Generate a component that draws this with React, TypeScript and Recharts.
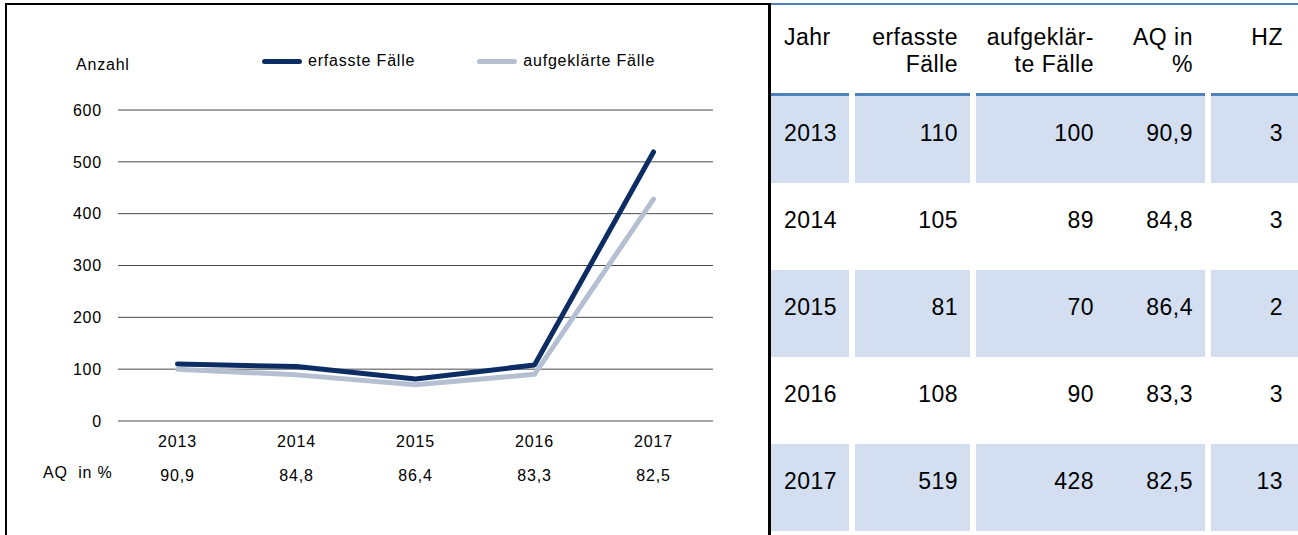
import { LineChart, Line, XAxis, YAxis, CartesianGrid, Legend } from 'recharts'

const years = ['2013', '2014', '2015', '2016', '2017']
const erfasst = [110, 105, 81, 108, 519]
const aufgeklaert = [100, 89, 70, 90, 428]
const aqProzent = ['90,9', '84,8', '86,4', '83,3', '82,5']
const hz = [3, 3, 2, 3, 13]
const yTicks = [0, 100, 200, 300, 400, 500, 600]

const seriesNames = ['erfasste Fälle', 'aufgeklärte Fälle']
const tableHeader = ['Jahr', 'erfasste\nFälle', 'aufgeklär-\nte Fälle', 'AQ in\n%', 'HZ']

const data = years.map((jahr, i) => ({
  jahr,
  erfasst: erfasst[i],
  aufgeklaert: aufgeklaert[i],
  aq: aqProzent[i],
}))

const FONT = '"Liberation Sans", Arial, sans-serif'
const DARK = '#0c2c64'
const LIGHT = '#b5bfd2'
const SHADE = '#d3dff0'
const BLUE = '#4f81bd'

const YearTick = (props: any) => {
  const { x, y, payload, index } = props
  return (
    <g>
      <text x={x} y={y + 26} textAnchor="middle" fill="#000" fontSize={16} letterSpacing={0.8} fontFamily={FONT}>
        {payload.value}
      </text>
      <text x={x} y={y + 60} textAnchor="middle" fill="#000" fontSize={16} letterSpacing={0.8} fontFamily={FONT}>
        {data[index]?.aq}
      </text>
    </g>
  )
}

const renderLegend = (props: any) => {
  const items = [...props.payload].sort(
    (a: any, b: any) => seriesNames.indexOf(a.value) - seriesNames.indexOf(b.value)
  )
  return (
    <div style={{ display: 'flex', alignItems: 'center', fontFamily: FONT, fontSize: 16, letterSpacing: 0.8 }}>
      {items.map((e: any, i: number) => (
        <div key={i} style={{ display: 'flex', alignItems: 'center', marginRight: i === 0 ? 62 : 0 }}>
          <span style={{ display: 'inline-block', width: 40, height: 5, borderRadius: 3, background: e.color, marginRight: 6 }} />
          <span>{e.value}</span>
        </div>
      ))}
    </div>
  )
}

// table geometry
const blocks = [[771, 849], [855, 970], [976, 1205], [1211, 1298]]
const textCols = [
  { left: 784 },
  { right: 958 },
  { right: 1094 },
  { right: 1193 },
  { right: 1283 },
]
const ROW_TOP = 96
const ROW_H = 87

const cellText = (col: number, top: number, text: string, key: string) => {
  const c = textCols[col]
  const style: any = {
    position: 'absolute',
    top,
    whiteSpace: 'pre',
    fontFamily: FONT,
    fontSize: 23,
    lineHeight: '27px',
    letterSpacing: 0.5,
    color: '#000',
  }
  if (c.left !== undefined) style.left = c.left
  else { style.right = 1298 - (c.right as number); style.textAlign = 'right' }
  return <div key={key} style={style}>{text}</div>
}

export default function App() {
  const rows = years.map((y, i) => [y, String(erfasst[i]), String(aufgeklaert[i]), aqProzent[i], String(hz[i])])
  return (
    <div style={{ position: 'absolute', left: 0, top: 0, width: 1298, height: 535, background: '#fff', overflow: 'hidden' }}>
      <div style={{ position: 'absolute', left: 0, top: 0 }}>
        <LineChart width={770} height={535} data={data} margin={{ top: 110, right: 57, bottom: 54, left: 0 }}>
          <CartesianGrid vertical={false} stroke="#4a4a4a" />
          <XAxis
            dataKey="jahr"
            axisLine={false}
            tickLine={false}
            tickSize={0}
            tickMargin={0}
            interval={0}
            height={60}
            padding={{ left: 59.5, right: 59.5 }}
            tick={<YearTick />}
          />
          <YAxis
            type="number"
            domain={[0, 600]}
            ticks={yTicks}
            axisLine={false}
            tickLine={false}
            tickSize={0}
            tickMargin={16}
            width={118}
            tick={{ fill: '#000', fontSize: 16, fontFamily: FONT, letterSpacing: 0.8 }}
          />
          <Legend
            content={renderLegend}
            layout="horizontal"
            verticalAlign="middle"
            align="center"
            wrapperStyle={{ top: 52, left: 262, width: 'auto', height: 18 }}
          />
          <Line
            type="linear"
            dataKey="erfasst"
            name={seriesNames[0]}
            stroke={DARK}
            strokeWidth={5}
            strokeLinecap="round"
            strokeLinejoin="round"
            dot={false}
            activeDot={false}
            isAnimationActive={false}
          />
          <Line
            type="linear"
            dataKey="aufgeklaert"
            name={seriesNames[1]}
            stroke={LIGHT}
            strokeWidth={5}
            strokeLinecap="round"
            strokeLinejoin="round"
            dot={false}
            activeDot={false}
            isAnimationActive={false}
          />
        </LineChart>
      </div>
      <div style={{ position: 'absolute', left: 76, top: 57, fontFamily: FONT, fontSize: 16, lineHeight: '16px', letterSpacing: 0.8 }}>Anzahl</div>
      <div style={{ position: 'absolute', left: 43, top: 465, fontFamily: FONT, fontSize: 16, lineHeight: '16px', letterSpacing: 0.8, whiteSpace: 'pre' }}>{'AQ  in %'}</div>

      {/* chart frame */}
      <div style={{ position: 'absolute', left: 5, top: 3, width: 764, height: 2, background: '#000' }} />
      <div style={{ position: 'absolute', left: 5, top: 3, width: 2, height: 540, background: '#000' }} />
      <div style={{ position: 'absolute', left: 768, top: 3, width: 3, height: 540, background: '#000' }} />

      {/* table */}
      <div style={{ position: 'absolute', left: 771, top: 3, width: 527, height: 2, background: BLUE }} />
      {tableHeader.map((h, c) => cellText(c, 24, h, 'h' + c))}
      {blocks.map(([a, b], k) => (
        <div key={'bl' + k} style={{ position: 'absolute', left: a, top: 93, width: b - a, height: 3, background: BLUE }} />
      ))}
      {rows.map((r, i) => (
        <div key={'r' + i}>
          {i % 2 === 0 && blocks.map(([a, b], k) => (
            <div key={'s' + k} style={{ position: 'absolute', left: a, top: ROW_TOP + i * ROW_H, width: b - a, height: ROW_H, background: SHADE }} />
          ))}
          {r.map((t, c) => cellText(c, ROW_TOP + i * ROW_H + 24, t, 'c' + i + c))}
        </div>
      ))}
    </div>
  )
}
